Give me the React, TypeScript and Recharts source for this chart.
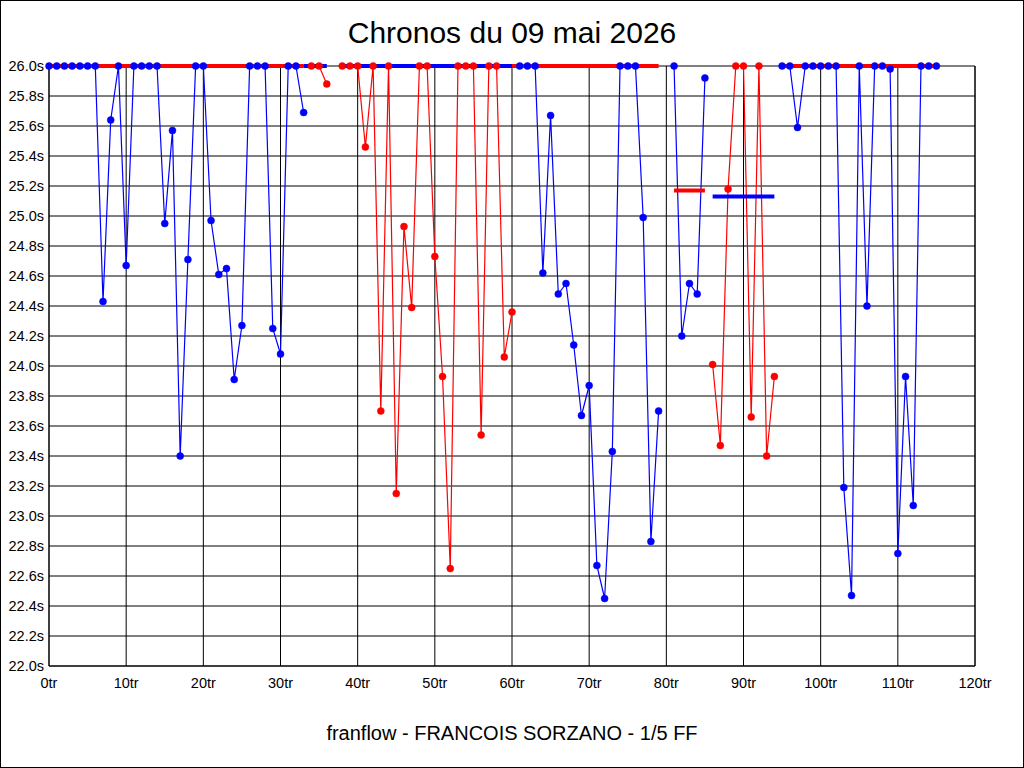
import { LineChart, Line, XAxis, YAxis, CartesianGrid } from 'recharts';

const BLUE = '#0000ff';
const RED = '#ff0000';

// lap times in seconds, anything at or over 26.0 is shown pinned at 26.0
const blueSession1 = [
  26, 26, 26, 26, 26, 26, 26, 24.43, 25.64, 26, 24.67, 26, 26, 26, 26, 24.95, 25.57,
  23.4, 24.71, 26, 26, 24.97, 24.61, 24.65, 23.91, 24.27, 26, 26, 26, 24.25, 24.08, 26, 26, 25.69,
];
const redSession1 = [26, 26, 25.88];
const redSession2 = [
  26, 26, 26, 25.46, 26, 23.7, 26, 23.15, 24.93, 24.39, 26, 26, 24.73, 23.93, 22.65, 26, 26, 26,
  23.54, 26, 26, 24.06, 24.36,
];
const blueSession2 = [
  26, 26, 26, 24.62, 25.67, 24.48, 24.55, 24.14, 23.67, 23.87, 22.67, 22.45, 23.43, 26, 26, 26,
  24.99, 22.83, 23.7,
];
const blueSession3 = [26, 24.2, 24.55, 24.48, 25.92];
const redSession3 = [24.01, 23.47, 25.18, 26, 26, 23.66, 26, 23.4, 23.93];
const blueSession4 = [
  26, 26, 25.59, 26, 26, 26, 26, 26, 23.19, 22.47, 26, 24.4, 26, 26, 25.98, 22.75, 23.93, 23.07,
  26, 26, 26,
];

const blueSessions = [
  { start: 0, times: blueSession1 },
  { start: 61, times: blueSession2 },
  { start: 81, times: blueSession3 },
  { start: 95, times: blueSession4 },
];
const redSessions = [
  { start: 34, times: redSession1 },
  { start: 38, times: redSession2 },
  { start: 86, times: redSession3 },
];

// session averages (drawn in the other colour)
const redAverages = [
  { from: 0, to: 33, time: 26 },
  { from: 60, to: 79, time: 26 },
  { from: 81, to: 85, time: 25.17 },
  { from: 95, to: 115, time: 26 },
];
const blueAverages = [
  { from: 33, to: 36, time: 26 },
  { from: 38, to: 60, time: 26 },
  { from: 86, to: 94, time: 25.13 },
];

const xTicks = [0, 10, 20, 30, 40, 50, 60, 70, 80, 90, 100, 110, 120];
const yTicks = [
  22.0, 22.2, 22.4, 22.6, 22.8, 23.0, 23.2, 23.4, 23.6, 23.8, 24.0, 24.2, 24.4, 24.6, 24.8, 25.0,
  25.2, 25.4, 25.6, 25.8, 26.0,
];
const LAST_LAP = 115;

function timeAt(sessions: { start: number; times: number[] }[], lap: number) {
  for (const s of sessions) {
    const i = lap - s.start;
    if (i >= 0 && i < s.times.length) return s.times[i];
  }
  return null;
}

function avgAt(segments: { from: number; to: number; time: number }[], lap: number) {
  for (const s of segments) {
    if (lap >= s.from && lap <= s.to) return s.time;
  }
  return null;
}

const rows: any[] = [];
for (let lap = 0; lap <= LAST_LAP; lap++) {
  rows.push({
    lap,
    blue: timeAt(blueSessions, lap),
    red: timeAt(redSessions, lap),
    redAvg: avgAt(redAverages, lap),
    blueAvg: avgAt(blueAverages, lap),
  });
}

const font = '"Liberation Sans", Arial, sans-serif';
const tickStyle = { fill: '#000', fontSize: 14.5, fontFamily: font };

export default function App() {
  return (
    <div style={{ position: 'absolute', left: 0, top: 0, width: 1024, height: 768, background: '#fff' }}>
      <div
        style={{
          position: 'absolute', left: 0, top: 15, width: 1024, textAlign: 'center',
          fontFamily: font, fontSize: 30, lineHeight: '36px', color: '#000',
        }}
      >
        Chronos du 09 mai 2026
      </div>
      <LineChart width={1024} height={768} data={rows} margin={{ top: 66, right: 0, bottom: 72, left: 0 }}>
        <CartesianGrid stroke="#000" strokeWidth={1} />
        <XAxis
          dataKey="lap"
          type="number"
          domain={[0, 120]}
          ticks={xTicks}
          tickFormatter={(v) => `${v}tr`}
          tick={tickStyle}
          tickLine={false}
          tickSize={0}
          tickMargin={12}
          axisLine={{ stroke: '#000' }}
          height={30}
          interval={0}
        />
        <YAxis
          domain={[22, 26]}
          ticks={yTicks}
          tickFormatter={(v) => `${v.toFixed(1)}s`}
          tick={tickStyle}
          tickLine={false}
          tickSize={0}
          tickMargin={5}
          axisLine={{ stroke: '#000' }}
          width={49}
          interval={0}
        />
        <YAxis
          yAxisId="r"
          orientation="right"
          domain={[22, 26]}
          ticks={yTicks}
          tickFormatter={(v) => `${v.toFixed(1)}s`}
          tick={tickStyle}
          tickLine={false}
          tickSize={0}
          tickMargin={4}
          axisLine={{ stroke: '#000' }}
          width={49}
          interval={0}
        />
        <Line type="linear" dataKey="blue" stroke={BLUE} strokeWidth={1.2} dot={false} isAnimationActive={false} />
        <Line type="linear" dataKey="red" stroke={RED} strokeWidth={1.2} dot={false} isAnimationActive={false} />
        <Line type="linear" dataKey="redAvg" stroke={RED} strokeWidth={4} dot={false} isAnimationActive={false} />
        <Line type="linear" dataKey="blueAvg" stroke={BLUE} strokeWidth={4} dot={false} isAnimationActive={false} />
        <Line
          type="linear"
          dataKey="blue"
          stroke="none"
          dot={{ r: 3.5, fill: BLUE, stroke: BLUE, strokeWidth: 0.5 }}
          isAnimationActive={false}
        />
        <Line
          type="linear"
          dataKey="red"
          stroke="none"
          dot={{ r: 3.5, fill: RED, stroke: RED, strokeWidth: 0.5 }}
          isAnimationActive={false}
        />
      </LineChart>
      <div
        style={{
          position: 'absolute', left: 0, top: 721, width: 1024, textAlign: 'center',
          fontFamily: font, fontSize: 20, lineHeight: '24px', color: '#000',
        }}
      >
        franflow - FRANCOIS SORZANO - 1/5 FF
      </div>
      <div
        style={{
          position: 'absolute', left: 0, top: 0, width: 1024, height: 768,
          border: '1px solid #000', boxSizing: 'border-box', pointerEvents: 'none',
        }}
      />
    </div>
  );
}
